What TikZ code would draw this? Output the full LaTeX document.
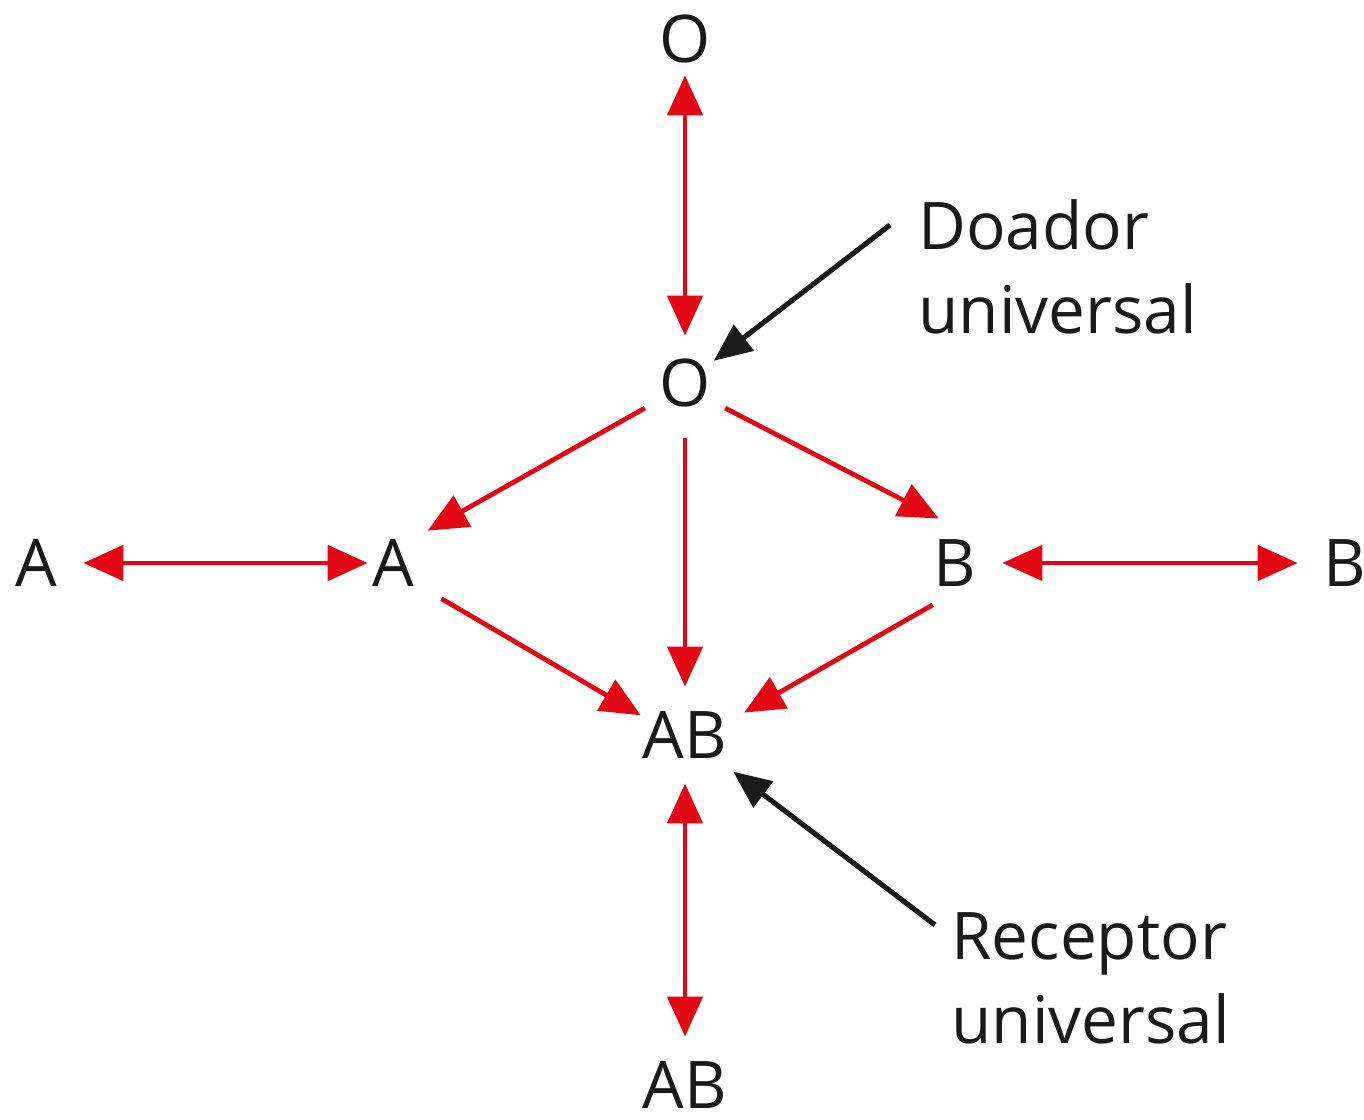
\documentclass[tikz,border=0pt]{standalone}
\usepackage{fontspec}
\setmainfont{Open Sans}
\usetikzlibrary{arrows.meta}
\definecolor{bloodred}{RGB}{227,6,19}
\definecolor{ink}{RGB}{26,26,26}
\begin{document}
\begin{tikzpicture}[x=0.02cm, y=-0.02cm,
  grp/.style={circle, inner sep=0pt, minimum size=1.88cm, text=ink, font=\fontsize{37.4}{47.8}\selectfont},
  gives/.style={draw=bloodred, line width=2.7pt, -{Triangle[length=0.8cm, width=0.7cm]}},
  twoway/.style={gives, {Triangle[length=0.8cm, width=0.7cm]}-{Triangle[length=0.8cm, width=0.7cm]}},
  pointer/.style={draw=ink, line width=2.9pt, -{Triangle[length=0.76cm, width=0.64cm]}},
  remark/.style={anchor=base west, align=left, inner sep=0pt, text=ink, font=\fontsize{37.4}{47.8}\selectfont}]
\useasboundingbox (0,0) rectangle (1364,1119);
% ---------- blood groups ----------
\node[grp] (otop) at (685,39) {O};
\node[grp] (o) at (685,383) {O};
\node[grp] (aout) at (36,563) {A};
\node[grp] (a) at (393,563) {A};
\node[grp] (b) at (955,563) {B};
\node[grp] (bout) at (1345,563) {B};
\node[grp] (ab) at (685,735) {AB};
\node[grp] (abbot) at (685,1085) {AB};
% ---------- who can give to whom ----------
\draw[twoway, shorten <=-0.22cm] (otop) -- (o);
\draw[gives] (o.212) -- (a.43);
\draw[gives] (o.-32) -- (b.110);
\draw[gives, shorten <=0.16cm] (o) -- (ab);
\draw[gives, shorten <=0.26cm] (a.-38) -- (ab.156);
\draw[gives, shorten >=0.3cm] (b.242) -- (ab.18);
\draw[twoway, shorten >=-0.44cm] (aout) -- (a);
\draw[twoway] (b) -- (bout);
\draw[twoway] (ab) -- (abbot);
% ---------- the two notes ----------
\node[remark] (doador) at (918,333) {Doador\\universal};
\node[remark] (receptor) at (951,1043) {Receptor\\universal};
\coordinate (dtail) at (890,225);
\coordinate (rtail) at (935,925);
\draw[pointer, shorten >=-0.22cm] (dtail) -- (o);
\draw[pointer, shorten >=0.24cm] (rtail) -- (ab);
\end{tikzpicture}
\end{document}
